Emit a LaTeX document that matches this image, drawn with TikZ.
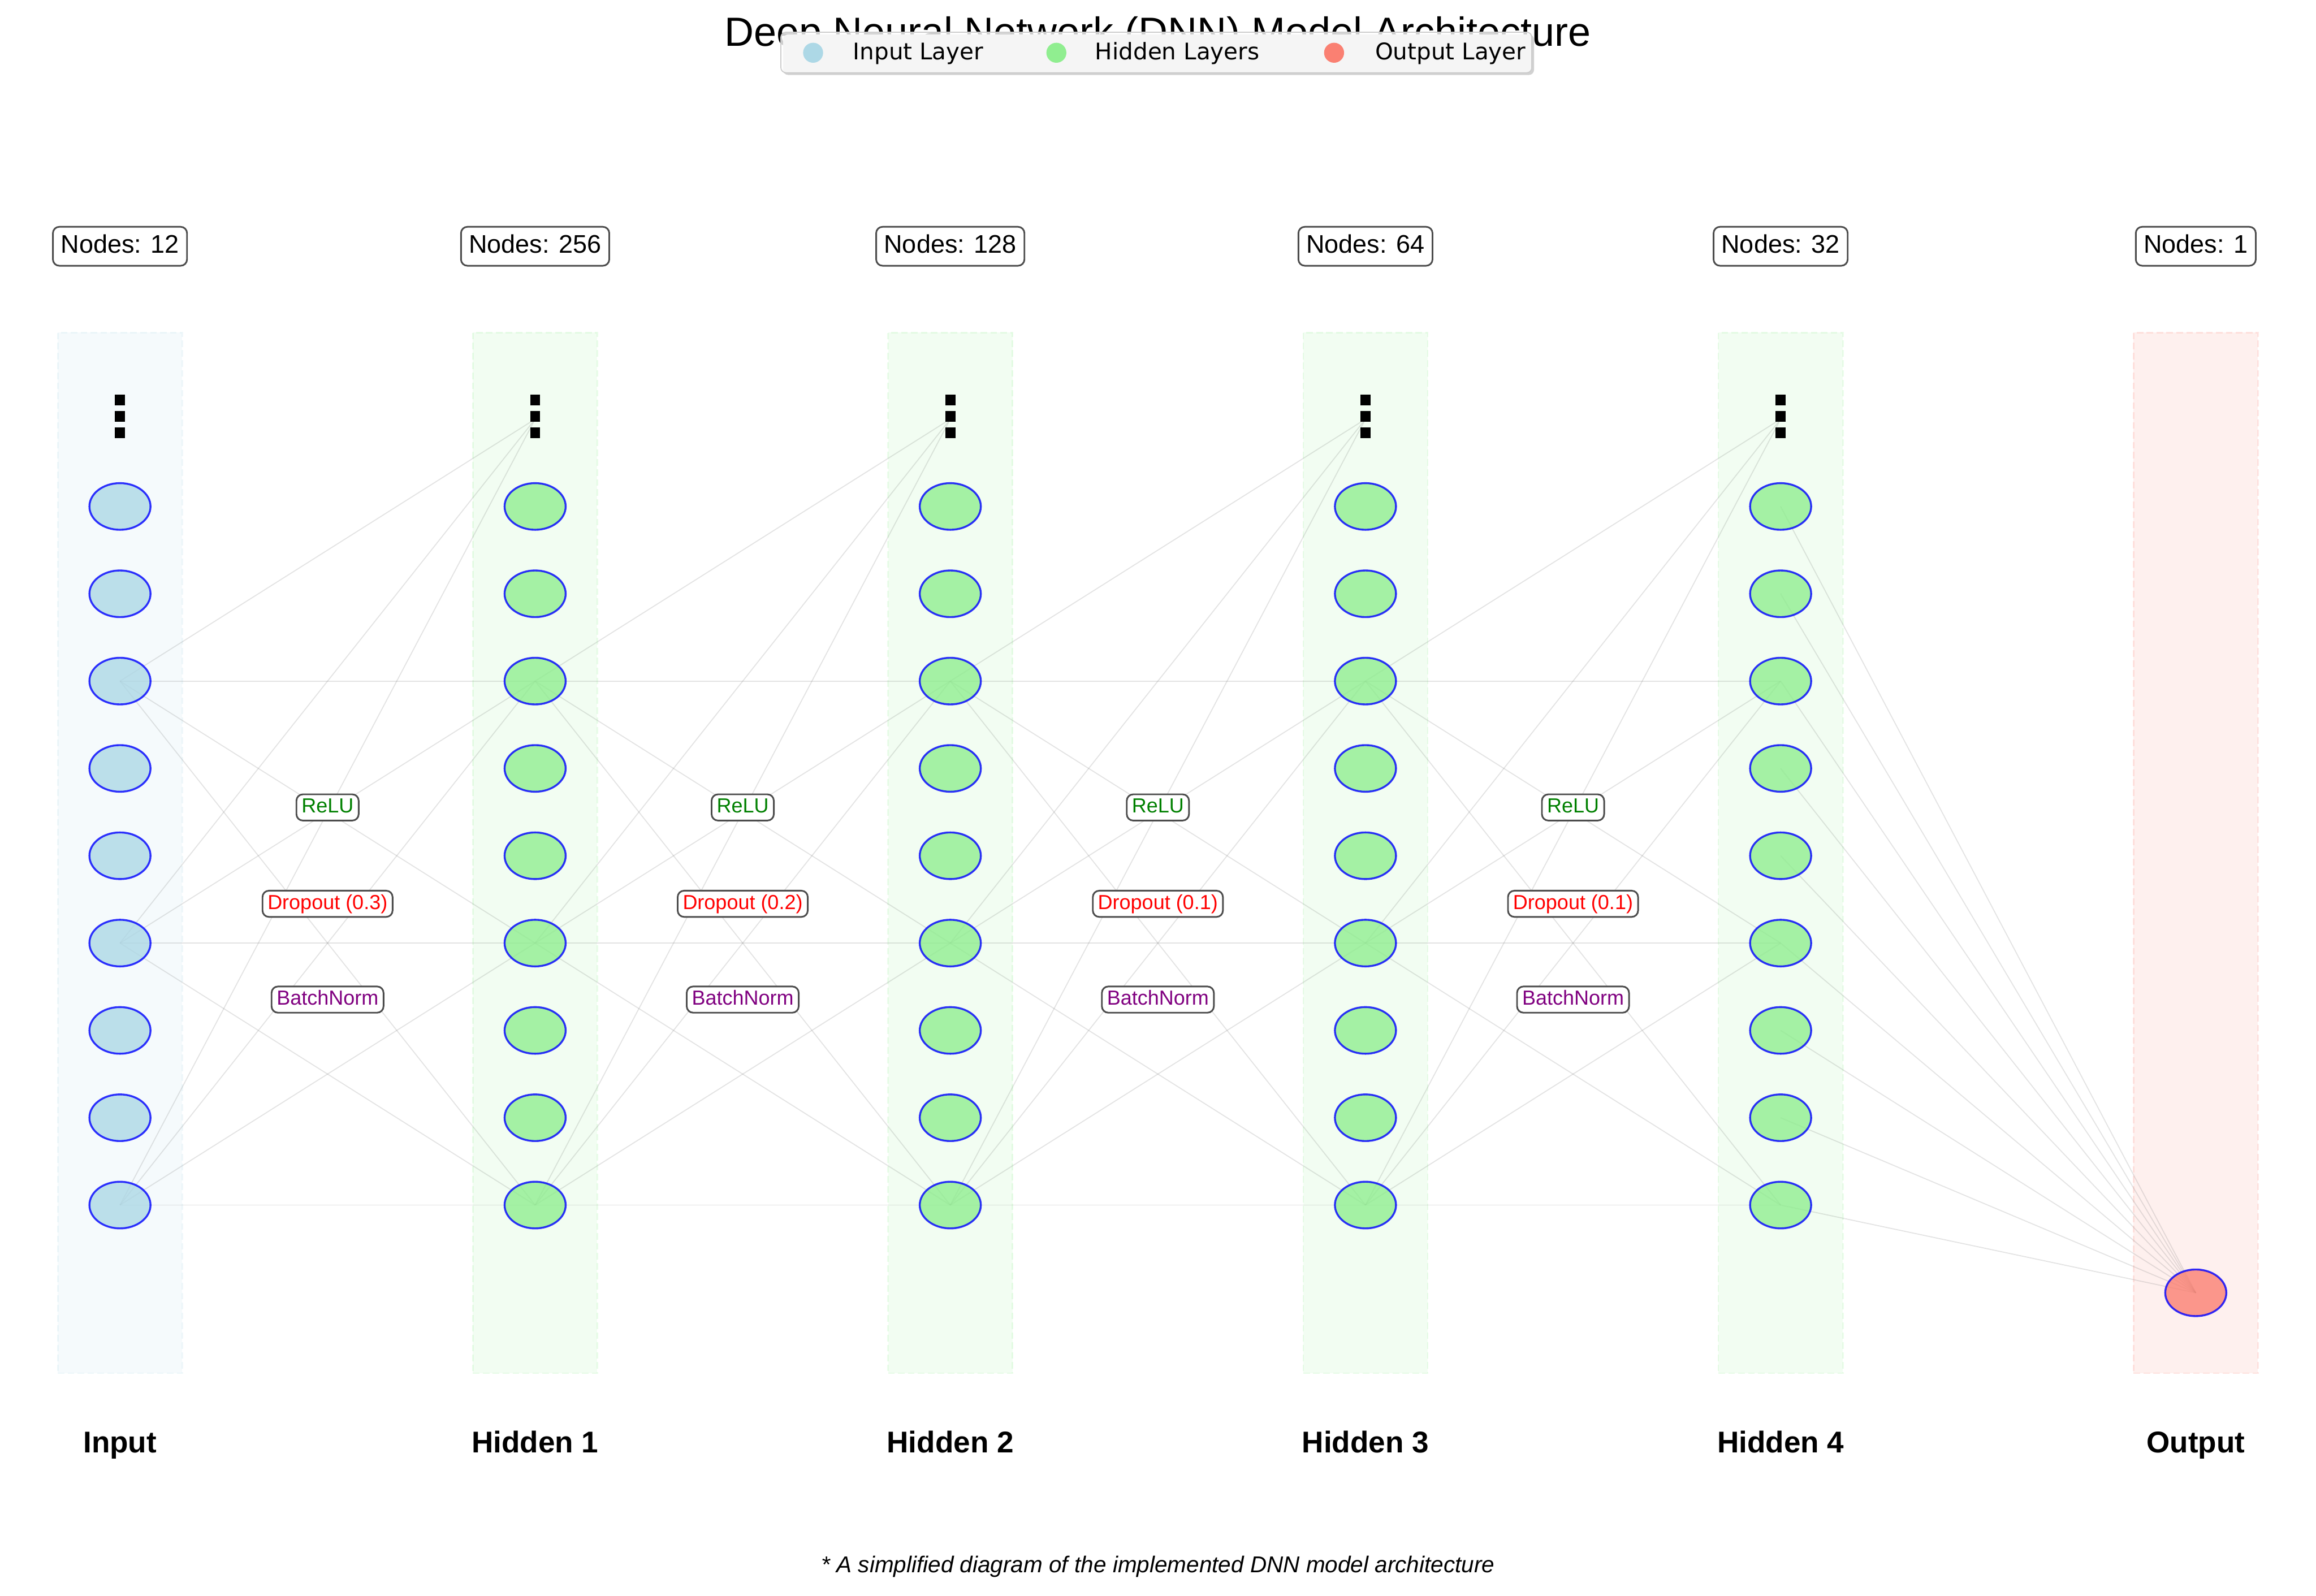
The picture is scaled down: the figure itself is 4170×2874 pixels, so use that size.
\documentclass[tikz,border=0pt]{standalone}
\usepackage{fontspec}
\setmainfont{Liberation Sans}
\newfontfamily\legendfont{DejaVu Sans}
\usetikzlibrary{shapes.geometric}
\definecolor{inblue}{HTML}{ADD8E6}
\definecolor{hidgreen}{HTML}{90EE90}
\definecolor{outsalmon}{HTML}{FA8072}
\definecolor{relugreen}{HTML}{008000}
\definecolor{bnpurple}{HTML}{800080}
\newdimen\pxu \pxu=0.2183pt
\pgfdeclarelayer{bg}
\pgfdeclarelayer{wires}
\pgfsetlayers{bg,wires,main}

\begin{document}
\begin{tikzpicture}[
  x=0.2183pt, y=-0.2183pt,
  font=\fontsize{10}{12}\selectfont,
  colbox/.style={draw=#1, draw opacity=0.18, fill=#1, fill opacity=0.12, dash pattern=on 2.6pt off 1.3pt, line width=0.6pt, minimum width=224\pxu, minimum height=1874\pxu, inner sep=0pt},
  neuron/.style={ellipse, draw=blue, draw opacity=0.8, fill=#1, fill opacity=0.8, line width=0.75pt, minimum width=110\pxu, minimum height=84\pxu, inner sep=0pt},
  wire/.style={draw=gray, draw opacity=0.22, line width=0.4pt},
  infobox/.style={draw=black!70, line width=0.65pt, rounded corners=2.5pt, fill=white, inner xsep=3.1pt, inner ysep=3pt, text height=7.3pt, text depth=2pt},
  actbox/.style={infobox, font=\fontsize{8}{9.6}\selectfont, inner xsep=2pt, inner ysep=1.35pt, text height=5.9pt, text depth=1.7pt, text=#1},
  layername/.style={font=\fontsize{11.8}{14}\selectfont\bfseries, anchor=base},
  legdot/.style={circle, fill=#1, minimum size=36\pxu, inner sep=0pt},
  legtext/.style={font=\legendfont\fontsize{9}{11}\selectfont, anchor=base west, inner sep=0pt}
]
\useasboundingbox (0,0) rectangle (4170,2874);

% columns, sizes and layer names
\foreach \k/\colr/\name/\n in {0/inblue/Input/12, 1/hidgreen/Hidden 1/256, 2/hidgreen/Hidden 2/128, 3/hidgreen/Hidden 3/64, 4/hidgreen/Hidden 4/32, 5/outsalmon/Output/1}{
  \pgfmathsetmacro\lx{216+747.5*\k}
  \begin{pgfonlayer}{bg}
    \node[colbox=\colr] (col\k) at (\lx,1536) {};
  \end{pgfonlayer}
  \node[infobox] (size\k) at (\lx,443.5) {Nodes: \n};
  \node[layername] (name\k) at (\lx,2616) {\name};
}

% neurons with the dots on top
\foreach \k/\colr in {0/inblue, 1/hidgreen, 2/hidgreen, 3/hidgreen, 4/hidgreen}{
  \pgfmathsetmacro\lx{216+747.5*\k}
  \foreach \j in {0,...,8}
    \node[neuron=\colr] (n\k-\j) at (\lx,{2170-157.25*\j}) {};
  \coordinate (n\k-9) at (\lx,754.75);
  \foreach \d in {-29.5,0,29.5}
    \fill ({\lx-9},{750+\d-9.5}) rectangle ({\lx+9},{750+\d+9.5});
}
\node[neuron=outsalmon] (n5-0) at (3953.5,2328) {};

% connections
\begin{pgfonlayer}{wires}
  \foreach \k [evaluate=\k as \nk using int(\k+1)] in {0,...,3}
    \foreach \i in {0,3,6}
      \foreach \j in {0,3,6,9}
        \draw[wire] (n\k-\i.center) -- (n\nk-\j.center);
  \foreach \i in {0,...,8}
    \draw[wire] (n4-\i.center) -- (n5-0.center);
\end{pgfonlayer}

% operations between layers
\foreach \k/\p in {0/0.3, 1/0.2, 2/0.1, 3/0.1}{
  \pgfmathsetmacro\mx{216+747.5*(\k+0.5)}
  \node[actbox=relugreen] (relu\k) at (\mx,1454) {ReLU};
  \node[actbox=red] (drop\k) at (\mx,1627.5) {Dropout (\p)};
  \node[actbox=bnpurple] (bn\k) at (\mx,1800) {BatchNorm};
}

% title and legend
\node[font=\fontsize{16}{19}\selectfont, anchor=base, inner sep=0pt] (title) at (2085,83) {Deep Neural Network (DNN) Model Architecture};
\fill[black!18, rounded corners=2pt] (1410,62) rectangle (2762,135);
\node[draw=black!20, line width=0.4pt, fill=white, fill opacity=0.8, rounded corners=2pt, minimum width=1352\pxu, minimum height=73\pxu, inner sep=0pt] (legend) at (2082,94.5) {};
\node[legdot=inblue] (legin) at (1464,95) {};
\node[legtext] (legintxt) at (1535,107) {Input Layer};
\node[legdot=hidgreen] (leghid) at (1902,95) {};
\node[legtext] (leghidtxt) at (1971,107) {Hidden Layers};
\node[legdot=outsalmon] (legout) at (2402,95) {};
\node[legtext] (legouttxt) at (2475,107) {Output Layer};

\node[font=\fontsize{9}{11}\selectfont\itshape, anchor=base] (note) at (2085,2832) {* A simplified diagram of the implemented DNN model architecture};
\end{tikzpicture}
\end{document}
